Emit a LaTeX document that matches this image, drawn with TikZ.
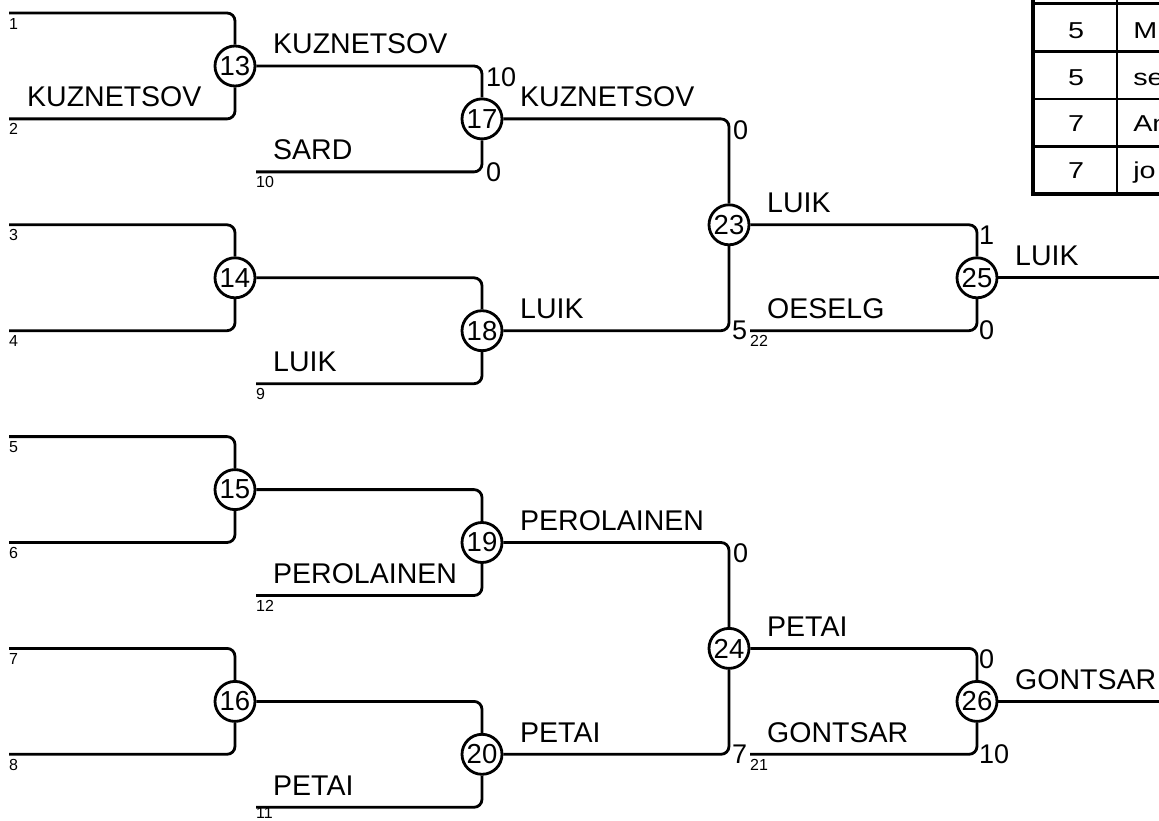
\documentclass[tikz,border=0pt]{standalone}
\usepackage{fontspec}
\setmainfont{Liberation Sans}
\tikzset{
  wire/.style={line width=2.8pt, rounded corners=8pt},
  match/.style={circle, draw, line width=2.8pt, minimum size=40pt, inner sep=0pt, fill=white, font=\fontsize{27.5}{27.5}\selectfont},
  player/.style={anchor=west, inner sep=0pt, font=\fontsize{28.5}{28.5}\selectfont},
  seed/.style={anchor=west, inner sep=0pt, font=\fontsize{16}{16}\selectfont},
  score/.style={anchor=west, inner sep=0pt, font=\fontsize{27}{27}\selectfont},
  cell/.style={anchor=base, inner sep=0pt, xscale=1.25, font=\fontsize{23}{23}\selectfont},
  celltext/.style={anchor=base west, inner sep=0pt, xscale=1.25, font=\fontsize{23}{23}\selectfont},
  thin/.style={line width=2.2pt},
  thick/.style={line width=4.5pt},
}
\begin{document}
\begin{tikzpicture}[x=1pt,y=-1pt]
\useasboundingbox (0,0) rectangle (1159,821);
\clip (0,0) rectangle (1159,821);
% line starts
\coordinate (p1) at (9,13);
\coordinate (p2) at (9,118.9);
\coordinate (p3) at (9,224.8);
\coordinate (p4) at (9,330.7);
\coordinate (p5) at (9,436.6);
\coordinate (p6) at (9,542.5);
\coordinate (p7) at (9,648.4);
\coordinate (p8) at (9,754.3);
\coordinate (b10) at (256,171.9);
\coordinate (b9) at (256,383.7);
\coordinate (b12) at (256,595.5);
\coordinate (b11) at (256,807.3);
\coordinate (b22) at (750,330.7);
\coordinate (b21) at (750,754.3);
\coordinate (e25) at (1170,277.8);
\coordinate (e26) at (1170,701.4);
% matches
\node[match] (c13) at (235,66) {13};
\node[match] (c14) at (235,277.8) {14};
\node[match] (c15) at (235,489.6) {15};
\node[match] (c16) at (235,701.4) {16};
\node[match] (c17) at (482,118.9) {17};
\node[match] (c18) at (482,330.7) {18};
\node[match] (c19) at (482,542.5) {19};
\node[match] (c20) at (482,754.3) {20};
\node[match] (c23) at (729,224.8) {23};
\node[match] (c24) at (729,648.4) {24};
\node[match] (c25) at (977,277.8) {25};
\node[match] (c26) at (977,701.4) {26};
% connectors
\draw[wire] (p1) -| (c13); \draw[wire] (p2) -| (c13);
\draw[wire] (p3) -| (c14); \draw[wire] (p4) -| (c14);
\draw[wire] (p5) -| (c15); \draw[wire] (p6) -| (c15);
\draw[wire] (p7) -| (c16); \draw[wire] (p8) -| (c16);
\draw[wire] (c13) -| (c17); \draw[wire] (b10) -| (c17);
\draw[wire] (c14) -| (c18); \draw[wire] (b9) -| (c18);
\draw[wire] (c15) -| (c19); \draw[wire] (b12) -| (c19);
\draw[wire] (c16) -| (c20); \draw[wire] (b11) -| (c20);
\draw[wire] (c17) -| (c23); \draw[wire] (c18) -| (c23);
\draw[wire] (c19) -| (c24); \draw[wire] (c20) -| (c24);
\draw[wire] (c23) -| (c25); \draw[wire] (b22) -| (c25);
\draw[wire] (c24) -| (c26); \draw[wire] (b21) -| (c26);
\draw[wire] (c25) -- (e25);
\draw[wire] (c26) -- (e26);
% player names
\node[player] (n2) at (27,96.9) {KUZNETSOV};
\node[player] (n13) at (273,44) {KUZNETSOV};
\node[player] (n10) at (273,149.9) {SARD};
\node[player] (n9) at (273,361.7) {LUIK};
\node[player] (n12) at (273,573.5) {PEROLAINEN};
\node[player] (n11) at (273,785.3) {PETAI};
\node[player] (n17) at (520,96.9) {KUZNETSOV};
\node[player] (n18) at (520,308.7) {LUIK};
\node[player] (n19) at (520,520.5) {PEROLAINEN};
\node[player] (n20) at (520,732.3) {PETAI};
\node[player] (n23) at (767,202.8) {LUIK};
\node[player] (n22) at (767,308.7) {OESELG};
\node[player] (n24) at (767,626.4) {PETAI};
\node[player] (n21) at (767,732.3) {GONTSAR};
\node[player] (n25) at (1015,255.8) {LUIK};
\node[player] (n26) at (1015,679.4) {GONTSAR};
% seeds
\node[seed] (s1) at (9,23.5) {1};
\node[seed] (s2) at (9,129.4) {2};
\node[seed] (s3) at (9,235.3) {3};
\node[seed] (s4) at (9,341.2) {4};
\node[seed] (s5) at (9,447.1) {5};
\node[seed] (s6) at (9,553) {6};
\node[seed] (s7) at (9,658.9) {7};
\node[seed] (s8) at (9,764.8) {8};
\node[seed] (s10) at (256,182.4) {10};
\node[seed] (s9) at (256,394.2) {9};
\node[seed] (s12) at (256,606) {12};
\node[seed] (s11) at (256,813) {11};
\node[seed] (s22) at (750,341.2) {22};
\node[seed] (s21) at (750,764.8) {21};
% scores
\node[score] (r17a) at (486,77) {10};
\node[score] (r17b) at (486,171.9) {0};
\node[score] (r23a) at (733,130) {0};
\node[score] (r23b) at (732,330) {5};
\node[score] (r24a) at (733,553) {0};
\node[score] (r24b) at (732,754) {7};
\node[score] (r25a) at (979,235) {1};
\node[score] (r25b) at (979,330.7) {0};
\node[score] (r26a) at (979,659) {0};
\node[score] (r26b) at (979,754) {10};
% table
\fill[white] (1033,-5) rectangle (1170,194);
\draw[thin] (1033,3.5) -- (1170,3.5);
\draw[thin] (1033,51.5) -- (1170,51.5);
\draw[thin] (1033,99) -- (1170,99);
\draw[thin] (1033,146.5) -- (1170,146.5);
\draw[thin] (1117,-5) -- (1117,194);
\draw[thick] (1033,-5) -- (1033,196.25);
\draw[thick] (1030.75,194) -- (1170,194);
\node[cell] (t1a) at (1076,38.3) {5};
\node[cell] (t2a) at (1076,85.2) {5};
\node[cell] (t3a) at (1076,131.7) {7};
\node[cell] (t4a) at (1076,178.3) {7};
\node[celltext] (t1b) at (1133,38.3) {M};
\node[celltext] (t2b) at (1133,85.2) {se};
\node[celltext] (t3b) at (1133,131.7) {An};
\node[celltext] (t4b) at (1133,178.3) {jo};
\end{tikzpicture}
\end{document}
